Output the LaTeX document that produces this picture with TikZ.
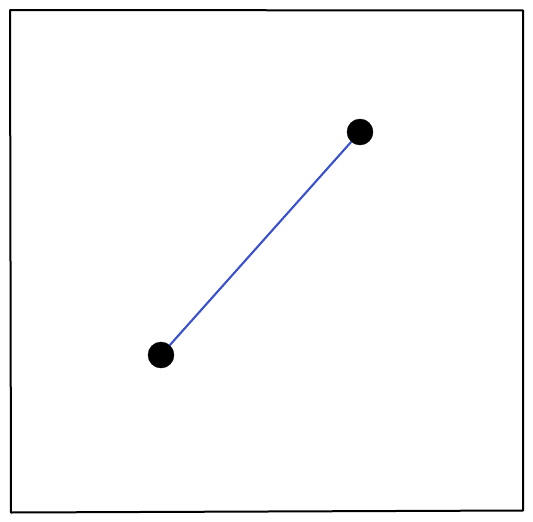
\documentclass[tikz,border=0pt]{standalone}
\definecolor{lineblue}{RGB}{58,80,204}
\begin{document}
\begin{tikzpicture}[x=1pt,y=-1pt,
  frame/.style={draw=black,line width=2pt,line join=round},
  dotnode/.style={circle,fill=black,draw=black,inner sep=0pt,minimum size=26pt},
  link/.style={draw=lineblue,line width=2.1pt}]
\useasboundingbox (0,0) rectangle (533,522);
\coordinate (tl) at (10,10);
\coordinate (tr) at (523,10.5);
\coordinate (br) at (523,510.5);
\coordinate (bl) at (11,512.5);
\draw[frame] (tl) -- (tr) -- (br) -- (bl) -- cycle;
\node[dotnode] (a) at (161,355) {};
\node[dotnode] (b) at (360,132) {};
\draw[link] (a) -- (b);
\end{tikzpicture}
\end{document}
